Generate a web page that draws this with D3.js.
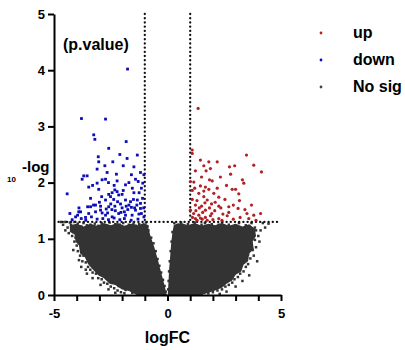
<!DOCTYPE html>
<html>
<head>
<meta charset="utf-8">
<script src="https://cdn.jsdelivr.net/npm/d3@7"></script>
<style>
  body { margin: 0; background: #fff; }
  text { font-family: "Liberation Sans", Arial, sans-serif; }
</style>
</head>
<body>
<div id="chart"></div>
<script>
'use strict';

// tick marks / labels
const xTicks = [-5, -4, -3, -2, -1, 0, 1, 2, 3, 4, 5];
const xLabels = ["-5", "", "", "", "", "0", "", "", "", "", "5"];
const yTicks = [0, 1, 2, 3, 4, 5];

const legendNames = ["up", "down", "No sig"];
const legendColors = ["#b32026", "#0d0db8", "#444444"];

// thresholds
const fcCut = [-1, 1];
const pCut = 1.3;

// significant down-regulated genes [logFC, -log10 p]
const downPts = [
  [-1.76, 4.02], [-3.79, 3.14], [-2.73, 3.13], [-3.25, 2.85], [-3.20, 2.77], [-1.82, 2.73],
  [-2.59, 2.61], [-2.10, 2.50], [-1.33, 2.49], [-3.05, 2.46], [-1.78, 2.43], [-2.41, 2.37],
  [-3.03, 2.37], [-2.76, 2.30], [-1.95, 2.30], [-3.10, 2.24], [-1.48, 2.28], [-2.66, 2.18],
  [-3.69, 2.12], [-3.76, 2.06], [-3.54, 2.12], [-2.25, 2.15], [-1.59, 2.14], [-1.19, 2.18],
  [-1.04, 2.14], [-2.73, 2.06], [-2.88, 2.05], [-2.22, 2.03], [-1.41, 2.06], [-1.29, 2.02],
  [-1.09, 1.99], [-3.10, 1.99], [-3.47, 1.92], [-3.03, 1.88], [-1.85, 1.96], [-2.32, 1.87],
  [-2.22, 1.84], [-2.44, 1.82], [-4.42, 1.80], [-2.59, 1.79], [-2.51, 1.75], [-2.15, 1.78],
  [-2.00, 1.79], [-3.39, 1.72], [-1.48, 1.82], [-2.73, 1.69], [-2.37, 1.70], [-1.85, 1.69],
  [-1.63, 1.66], [-1.33, 1.69], [-1.19, 1.63], [-3.17, 1.60], [-2.95, 1.58], [-3.39, 1.57],
  [-2.59, 1.57], [-2.32, 1.58], [-2.07, 1.62], [-1.82, 1.58], [-1.59, 1.56], [-1.41, 1.51],
  [-1.19, 1.54], [-3.91, 1.48], [-3.47, 1.45], [-3.17, 1.48], [-2.88, 1.46], [-4.05, 1.39],
  [-3.61, 1.38], [-2.73, 1.42], [-2.44, 1.39], [-2.15, 1.45], [-1.85, 1.42], [-1.56, 1.42],
  [-1.26, 1.44], [-1.04, 1.39], [-3.96, 1.42], [-3.83, 1.48], [-3.52, 1.57], [-3.26, 1.60],
  [-2.95, 1.51], [-2.64, 1.46], [-2.50, 1.62], [-2.30, 1.50], [-2.20, 1.66], [-2.00, 1.55],
  [-1.90, 1.48], [-1.70, 1.60], [-1.50, 1.70], [-1.35, 1.60], [-1.15, 1.45], [-1.10, 1.72],
  [-1.30, 1.35], [-1.60, 1.33], [-1.90, 1.36], [-2.10, 1.34], [-2.35, 1.37], [-2.60, 1.34],
  [-2.85, 1.36], [-3.10, 1.35], [-3.35, 1.39], [-3.60, 1.33], [-3.80, 1.36], [-4.20, 1.34],
  [-1.75, 1.52], [-2.05, 1.47], [-2.45, 1.52], [-1.45, 1.55], [-1.25, 1.82], [-1.05, 1.55],
  [-2.70, 1.53], [-3.00, 1.65], [-1.55, 1.90], [-2.90, 1.75], [-2.35, 1.95], [-1.70, 2.00],
  [-1.95, 1.86], [-1.15, 1.90], [-2.60, 2.00], [-3.30, 1.95], [-3.90, 1.55], [-4.30, 1.45]
];

// significant up-regulated genes
const upPts = [
  [1.35, 3.32], [1.09, 2.58], [1.09, 2.52], [3.48, 2.49], [1.45, 2.40], [1.82, 2.37],
  [2.19, 2.37], [1.60, 2.30], [1.23, 2.21], [1.70, 2.21], [1.89, 2.25], [2.73, 2.28],
  [2.96, 2.30], [3.80, 2.31], [4.14, 2.19], [2.33, 2.10], [2.78, 2.15], [1.01, 2.02],
  [1.16, 2.01], [1.85, 2.05], [1.97, 2.03], [3.36, 1.99], [1.45, 1.94], [1.67, 1.92],
  [1.82, 1.88], [1.09, 1.86], [2.19, 1.90], [2.85, 1.88], [3.00, 1.88], [1.38, 1.81],
  [2.04, 1.81], [3.14, 1.80], [1.60, 1.75], [2.26, 1.74], [1.09, 1.70], [1.75, 1.69],
  [2.53, 1.70], [3.17, 1.68], [1.23, 1.60], [1.50, 1.58], [1.94, 1.62], [2.26, 1.58],
  [2.70, 1.57], [3.11, 1.54], [3.41, 1.52], [1.01, 1.51], [1.67, 1.51], [2.08, 1.50],
  [2.44, 1.44], [2.63, 1.41], [3.80, 1.42], [4.10, 1.45], [1.38, 1.42], [1.89, 1.41],
  [1.23, 1.36], [1.53, 1.35], [1.67, 1.38], [2.26, 1.36], [3.58, 1.36], [3.90, 1.33],
  [3.20, 1.38], [2.90, 1.35], [3.50, 1.45], [2.40, 1.33], [2.00, 1.34], [1.75, 1.33],
  [1.30, 1.33], [1.15, 1.45], [1.40, 1.55], [1.55, 1.47], [1.85, 1.55], [2.10, 1.65],
  [1.30, 1.68], [1.65, 1.64], [2.35, 1.55], [1.20, 1.90], [1.50, 2.10], [2.60, 1.95],
  [3.70, 1.60], [1.95, 1.45], [1.10, 1.38], [1.45, 1.37], [2.70, 1.47], [1.25, 1.50],
  [3.30, 2.05], [2.90, 1.60], [1.60, 1.85]
];

// not significant genes on the fringe of the cloud
const noSigPts = [
  [-4.50, 1.30], [-4.30, 1.29], [-4.10, 1.30], [-3.95, 1.27], [-3.80, 1.22], [-3.70, 1.28],
  [-3.55, 1.24], [-3.40, 1.25], [-3.20, 1.27], [-3.05, 1.23], [-2.90, 1.28], [-2.70, 1.24],
  [-2.55, 1.29], [-2.30, 1.26], [-2.10, 1.25], [-1.95, 1.28], [-1.70, 1.25], [-1.50, 1.27],
  [-1.40, 1.23], [-1.25, 1.26], [-1.05, 1.24], [-0.95, 1.29], [-0.88, 1.22], [-4.00, 1.15],
  [-4.15, 1.12], [-4.05, 1.02], [-3.95, 0.95], [-4.35, 1.10], [-4.20, 1.05], [-4.10, 0.95],
  [-4.00, 0.88], [-3.95, 0.78], [-3.85, 0.70], [-3.75, 0.60], [-3.60, 0.58], [-3.50, 0.50],
  [-3.40, 0.45], [-3.30, 0.40], [-3.15, 0.38], [-3.05, 0.30], [-2.90, 0.28], [-2.80, 0.22],
  [-2.65, 0.20], [-2.50, 0.15], [-2.35, 0.12], [-2.20, 0.08], [-2.05, 0.05], [-1.90, 0.03],
  [-4.60, 1.25], [-4.40, 1.20], [-4.25, 1.25], [-3.90, 0.62], [-3.60, 0.45], [-3.30, 0.30],
  [-2.95, 0.18], [-2.60, 0.10], [-2.30, 0.04], [-4.15, 0.80], [-3.80, 0.50], [-3.70, 0.70],
  [-3.45, 0.58], [-3.20, 0.48], [-2.95, 0.36], [-2.70, 0.30], [-2.45, 0.22], [-2.15, 0.16],
  [-1.85, 0.09], [-1.55, 0.04], [-3.80, 0.85], [-4.50, 1.15], [-4.70, 1.30], [-3.55, 0.38],
  [-0.84, 1.15], [-0.72, 1.02], [-0.62, 0.92], [-0.52, 0.78], [-0.44, 0.64], [-0.36, 0.52],
  [-0.28, 0.40], [-0.20, 0.27], [-0.13, 0.16], [-0.08, 0.06],
  [0.30, 1.28], [0.45, 1.25], [0.60, 1.29], [0.90, 1.26], [1.20, 1.29], [1.50, 1.25],
  [1.65, 1.28], [1.95, 1.26], [2.25, 1.25], [2.40, 1.29], [2.70, 1.25], [3.00, 1.24],
  [3.15, 1.28], [3.45, 1.24], [3.70, 1.28], [3.85, 1.20], [3.90, 1.15], [4.00, 1.05],
  [3.85, 0.98], [3.90, 0.85], [3.75, 0.80], [3.80, 0.70], [3.65, 0.65], [3.55, 0.55],
  [3.45, 0.50], [3.35, 0.42], [3.20, 0.38], [3.10, 0.32], [2.95, 0.28], [2.85, 0.22],
  [2.70, 0.18], [2.55, 0.15], [2.40, 0.10], [2.20, 0.08], [2.00, 0.05], [1.80, 0.03],
  [4.10, 1.15], [3.95, 0.60], [3.60, 0.35], [3.30, 0.25], [3.00, 0.15], [2.60, 0.06],
  [2.30, 0.02], [4.20, 1.28], [4.30, 1.20], [4.45, 1.27], [3.70, 0.92], [3.55, 0.72],
  [3.35, 0.58], [3.15, 0.46], [2.95, 0.38], [2.75, 0.28], [2.45, 0.18], [2.15, 0.12],
  [1.85, 0.08], [1.50, 0.03], [4.05, 0.95], [3.75, 1.08],
  [0.22, 1.12], [0.18, 0.95], [0.14, 0.78], [0.10, 0.60], [0.07, 0.42], [0.05, 0.25],
  [0.03, 0.10]
];

// outline of the dense, fully overlapped part of the cloud
const leftCore = [
  [-4.30, 1.24], [-4.00, 1.27], [-3.70, 1.22], [-3.40, 1.27], [-3.10, 1.23], [-2.80, 1.28],
  [-2.50, 1.24], [-2.20, 1.28], [-1.90, 1.23], [-1.60, 1.27], [-1.30, 1.24], [-1.05, 1.28],
  [-0.88, 1.25], [-0.75, 1.05], [-0.58, 0.85], [-0.42, 0.62], [-0.28, 0.40], [-0.15, 0.20],
  [-0.04, 0.02], [-0.01, 0.00], [-1.35, 0.00], [-1.70, 0.07], [-2.00, 0.10], [-2.30, 0.18],
  [-2.55, 0.20], [-2.80, 0.30], [-3.05, 0.35], [-3.30, 0.46], [-3.50, 0.55], [-3.65, 0.68],
  [-3.85, 0.74], [-3.90, 0.88], [-4.05, 0.95], [-4.10, 1.08], [-4.30, 1.12]
];
const rightCore = [
  [0.28, 1.25], [0.60, 1.28], [0.90, 1.24], [1.20, 1.28], [1.50, 1.23], [1.80, 1.27],
  [2.10, 1.24], [2.40, 1.28], [2.70, 1.23], [3.00, 1.27], [3.30, 1.22], [3.60, 1.26],
  [3.85, 1.18], [3.90, 1.05], [3.75, 0.95], [3.80, 0.82], [3.60, 0.74], [3.55, 0.60],
  [3.35, 0.54], [3.25, 0.42], [3.00, 0.36], [2.85, 0.26], [2.60, 0.20], [2.40, 0.13],
  [2.10, 0.08], [1.80, 0.04], [1.50, 0.00], [0.01, 0.00], [0.04, 0.20], [0.07, 0.45],
  [0.12, 0.70], [0.17, 0.95], [0.22, 1.12]
];

const width = 405, height = 350;
const margin = {top: 14, right: 124, bottom: 55, left: 54};

let svg = d3.select("#chart").append("svg")
  .attr("width", width)
  .attr("height", height);

let x = d3.scaleLinear().domain([-5, 5]).range([margin.left, width - margin.right]);
let y = d3.scaleLinear().domain([0, 5]).range([height - margin.bottom, margin.top]);

// not significant cloud
let line = d3.line().x(d => x(d[0])).y(d => y(d[1]));
svg.selectAll("path.core")
  .data([leftCore, rightCore])
  .enter().append("path")
  .attr("class", "core")
  .attr("d", d => line(d) + "Z")
  .attr("fill", "#333");

svg.append("g").selectAll("rect")
  .data(noSigPts)
  .enter().append("rect")
  .attr("x", d => x(d[0]) - 1.25)
  .attr("y", d => y(d[1]) - 1.25)
  .attr("width", 2.5)
  .attr("height", 2.5)
  .attr("fill", "#333");

// threshold lines
let dots = svg.append("g")
  .attr("stroke", "#111")
  .attr("stroke-width", 2.3)
  .attr("stroke-linecap", "round")
  .attr("stroke-dasharray", "0.1,4.1");
dots.selectAll("line.v")
  .data(fcCut)
  .enter().append("line")
  .attr("class", "v")
  .attr("x1", d => x(d)).attr("x2", d => x(d))
  .attr("y1", y(5)).attr("y2", y(pCut));
dots.append("line")
  .attr("x1", x(-4.8)).attr("x2", x(4.85))
  .attr("y1", y(pCut)).attr("y2", y(pCut));

// significant genes
svg.append("g").selectAll("rect")
  .data(downPts)
  .enter().append("rect")
  .attr("x", d => x(d[0]) - 1.4)
  .attr("y", d => y(d[1]) - 1.4)
  .attr("width", 2.8)
  .attr("height", 2.8)
  .attr("fill", legendColors[1]);

svg.append("g").selectAll("circle")
  .data(upPts)
  .enter().append("circle")
  .attr("cx", d => x(d[0]))
  .attr("cy", d => y(d[1]))
  .attr("r", 1.6)
  .attr("fill", legendColors[0]);

// axes
let xAxis = svg.append("g")
  .attr("transform", "translate(0," + y(0) + ")")
  .call(d3.axisBottom(x).tickValues(xTicks).tickSize(6).tickSizeOuter(0).tickPadding(8)
    .tickFormat((d, i) => xLabels[i]));
let yAxis = svg.append("g")
  .attr("transform", "translate(" + x(-5) + ",0)")
  .call(d3.axisLeft(y).tickValues(yTicks).tickSize(6).tickSizeOuter(0).tickPadding(3)
    .tickFormat(d3.format("d")));

[xAxis, yAxis].forEach(a => {
  a.select(".domain").attr("stroke", "#000").attr("stroke-width", 2);
  a.selectAll(".tick line").attr("stroke", "#000").attr("stroke-width", 2);
  a.selectAll(".tick text")
    .attr("fill", "#000")
    .style("font-size", "13px")
    .style("font-weight", "bold");
});

// axis titles
svg.append("text")
  .attr("x", x(0))
  .attr("y", 343)
  .attr("text-anchor", "middle")
  .style("font-size", "16px")
  .style("font-weight", "bold")
  .text("logFC");

svg.append("text")
  .attr("x", 7)
  .attr("y", 182)
  .style("font-size", "8px")
  .style("font-weight", "bold")
  .text("10");
svg.append("text")
  .attr("x", 22)
  .attr("y", 172)
  .style("font-size", "15px")
  .style("font-weight", "bold")
  .text("-log");
svg.append("text")
  .attr("x", 63)
  .attr("y", 50)
  .style("font-size", "16px")
  .style("font-weight", "bold")
  .text("(p.value)");

// legend
let legend = svg.append("g").selectAll("g")
  .data(legendNames)
  .enter().append("g")
  .attr("transform", (d, i) => "translate(321," + (33 + i * 27) + ")");
legend.append("circle")
  .attr("r", 1.4)
  .attr("fill", (d, i) => legendColors[i]);
legend.append("text")
  .attr("x", 32)
  .attr("y", 5)
  .style("font-size", "16px")
  .style("font-weight", "bold")
  .text(d => d);
</script>
</body>
</html>
